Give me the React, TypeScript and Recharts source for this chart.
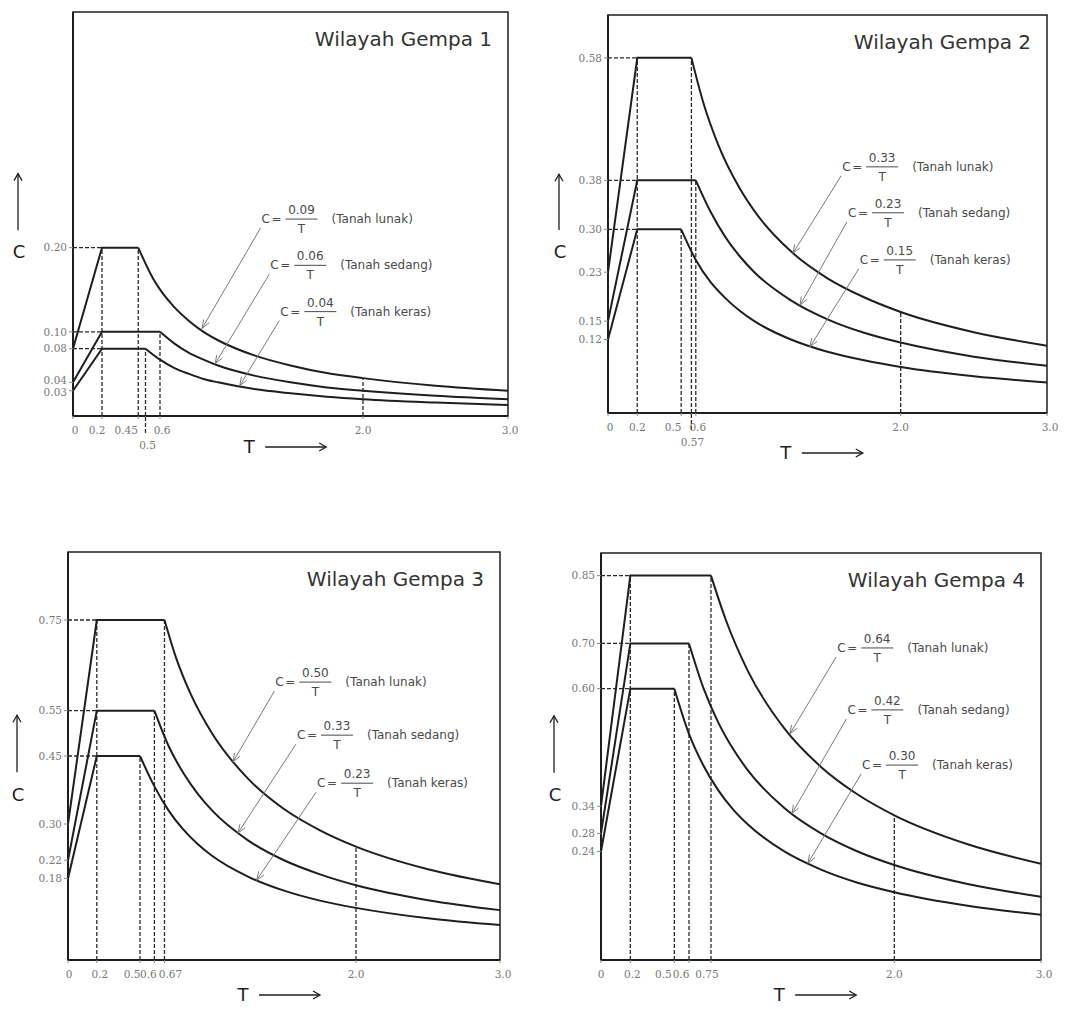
import React from "react";
import {
  LineChart,
  Line,
  XAxis,
  YAxis,
  ReferenceLine,
  ReferenceDot,
  ReferenceArea,
  Label,
} from "recharts";

type Pt = [number, number]; // [T (detik), C]

const SOILS = ["Tanah lunak", "Tanah sedang", "Tanah keras"];

// ---- Wilayah Gempa 1 ----
const g1Lunak: Pt[] = [[0, 0.08], [0.2, 0.2], [0.45, 0.2], [0.55, 0.164], [0.7, 0.129], [0.8, 0.113], [0.9, 0.1], [1.0, 0.09], [1.25, 0.072], [1.5, 0.06], [1.75, 0.051], [2.0, 0.045], [2.5, 0.036], [3.0, 0.03]];
const g1Sedang: Pt[] = [[0, 0.04], [0.2, 0.1], [0.6, 0.1], [0.7, 0.086], [0.8, 0.075], [0.9, 0.067], [1.0, 0.06], [1.25, 0.048], [1.5, 0.04], [1.75, 0.034], [2.0, 0.03], [2.5, 0.024], [3.0, 0.02]];
const g1Keras: Pt[] = [[0, 0.03], [0.2, 0.08], [0.5, 0.08], [0.6, 0.067], [0.7, 0.057], [0.8, 0.05], [0.9, 0.044], [1.0, 0.04], [1.25, 0.032], [1.5, 0.027], [1.75, 0.023], [2.0, 0.02], [2.5, 0.016], [3.0, 0.013]];
const g1XTicks = [0, 0.2, 0.45, 0.5, 0.6, 2.0, 3.0];
const g1YTicks = [0.03, 0.04, 0.08, 0.1, 0.2];
const g1Coef = [0.09, 0.06, 0.04];

// ---- Wilayah Gempa 2 ----
const g2Lunak: Pt[] = [[0, 0.23], [0.2, 0.58], [0.57, 0.58], [0.65, 0.508], [0.75, 0.44], [0.9, 0.367], [1.0, 0.33], [1.25, 0.264], [1.5, 0.22], [1.75, 0.189], [2.0, 0.165], [2.5, 0.132], [3.0, 0.11]];
const g2Sedang: Pt[] = [[0, 0.15], [0.2, 0.38], [0.6, 0.38], [0.7, 0.329], [0.8, 0.288], [0.9, 0.256], [1.0, 0.23], [1.25, 0.184], [1.5, 0.153], [1.75, 0.131], [2.0, 0.115], [2.5, 0.092], [3.0, 0.077]];
const g2Keras: Pt[] = [[0, 0.12], [0.2, 0.3], [0.5, 0.3], [0.6, 0.25], [0.7, 0.214], [0.8, 0.188], [0.9, 0.167], [1.0, 0.15], [1.25, 0.12], [1.5, 0.1], [1.75, 0.086], [2.0, 0.075], [2.5, 0.06], [3.0, 0.05]];
const g2XTicks = [0, 0.2, 0.5, 0.57, 0.6, 2.0, 3.0];
const g2YTicks = [0.12, 0.15, 0.23, 0.3, 0.38, 0.58];
const g2Coef = [0.33, 0.23, 0.15];

// ---- Wilayah Gempa 3 ----
const g3Lunak: Pt[] = [[0, 0.3], [0.2, 0.75], [0.67, 0.75], [0.75, 0.667], [0.85, 0.588], [1.0, 0.5], [1.25, 0.4], [1.5, 0.333], [1.75, 0.286], [2.0, 0.25], [2.5, 0.2], [3.0, 0.167]];
const g3Sedang: Pt[] = [[0, 0.22], [0.2, 0.55], [0.6, 0.55], [0.7, 0.471], [0.8, 0.413], [0.9, 0.367], [1.0, 0.33], [1.25, 0.264], [1.5, 0.22], [1.75, 0.189], [2.0, 0.165], [2.5, 0.132], [3.0, 0.11]];
const g3Keras: Pt[] = [[0, 0.18], [0.2, 0.45], [0.5, 0.45], [0.6, 0.383], [0.7, 0.329], [0.8, 0.288], [0.9, 0.256], [1.0, 0.23], [1.25, 0.184], [1.5, 0.153], [1.75, 0.131], [2.0, 0.115], [2.5, 0.092], [3.0, 0.077]];
const g3XTicks = [0, 0.2, 0.5, 0.6, 0.67, 2.0, 3.0];
const g3YTicks = [0.18, 0.22, 0.3, 0.45, 0.55, 0.75];
const g3Coef = [0.5, 0.33, 0.23];

// ---- Wilayah Gempa 4 ----
const g4Lunak: Pt[] = [[0, 0.34], [0.2, 0.85], [0.75, 0.85], [0.85, 0.753], [1.0, 0.64], [1.25, 0.512], [1.5, 0.427], [1.75, 0.366], [2.0, 0.32], [2.5, 0.256], [3.0, 0.213]];
const g4Sedang: Pt[] = [[0, 0.28], [0.2, 0.7], [0.6, 0.7], [0.7, 0.6], [0.8, 0.525], [0.9, 0.467], [1.0, 0.42], [1.25, 0.336], [1.5, 0.28], [1.75, 0.24], [2.0, 0.21], [2.5, 0.168], [3.0, 0.14]];
const g4Keras: Pt[] = [[0, 0.24], [0.2, 0.6], [0.5, 0.6], [0.6, 0.5], [0.7, 0.429], [0.8, 0.375], [0.9, 0.333], [1.0, 0.3], [1.25, 0.24], [1.5, 0.2], [1.75, 0.171], [2.0, 0.15], [2.5, 0.12], [3.0, 0.1]];
const g4XTicks = [0, 0.2, 0.5, 0.6, 0.75, 2.0, 3.0];
const g4YTicks = [0.24, 0.28, 0.34, 0.6, 0.7, 0.85];
const g4Coef = [0.64, 0.42, 0.3];

// where the formula labels sit and where their arrows point: [labelT, labelC, tipT, tipC]
const g1Notes = [[1.3, 0.234, 0.89, 0.104], [1.36, 0.179, 0.98, 0.062], [1.43, 0.124, 1.15, 0.036]];
const g2Notes = [[1.6, 0.402, 1.264, 0.261], [1.64, 0.327, 1.312, 0.176], [1.72, 0.25, 1.38, 0.108]];
const g3Notes = [[1.44, 0.613, 1.146, 0.437], [1.59, 0.496, 1.18, 0.28], [1.73, 0.39, 1.31, 0.176]];
const g4Notes = [[1.61, 0.69, 1.288, 0.5], [1.68, 0.553, 1.302, 0.324], [1.78, 0.431, 1.411, 0.214]];

const PANELS = [
  { title: "Wilayah Gempa 1", series: [g1Lunak, g1Sedang, g1Keras], coef: g1Coef, xTicks: g1XTicks, yTicks: g1YTicks, notes: g1Notes,
    yMax: 0.48, plotLeft: 73, plotTop: 12, plotW: 435, plotH: 404, xh: 52, lowered: [0.5], tickDx: [2, -5, -12, 2, 2, 0, 2],
    yNudge: { 0.04: -2, 0.03: 2 } as Record<number, number>, cDx: 55, tDy: 31 },
  { title: "Wilayah Gempa 2", series: [g2Lunak, g2Sedang, g2Keras], coef: g2Coef, xTicks: g2XTicks, yTicks: g2YTicks, notes: g2Notes,
    yMax: 0.65, plotLeft: 608, plotTop: 15, plotW: 439, plotH: 398, xh: 56, lowered: [0.57], tickDx: [2, 0, -8, 1, 2, 0, 3],
    yNudge: {} as Record<number, number>, cDx: 49, tDy: 40 },
  { title: "Wilayah Gempa 3", series: [g3Lunak, g3Sedang, g3Keras], coef: g3Coef, xTicks: g3XTicks, yTicks: g3YTicks, notes: g3Notes,
    yMax: 0.9, plotLeft: 68, plotTop: 552, plotW: 432, plotH: 408, xh: 46, lowered: [], tickDx: [1, 3, -8, -6, 6, 0, 3],
    yNudge: {} as Record<number, number>, cDx: 51, tDy: 35 },
  { title: "Wilayah Gempa 4", series: [g4Lunak, g4Sedang, g4Keras], coef: g4Coef, xTicks: g4XTicks, yTicks: g4YTicks, notes: g4Notes,
    yMax: 0.9, plotLeft: 601, plotTop: 553, plotW: 440, plotH: 407, xh: 46, lowered: [], tickDx: [0, 2, -11, -8, -4, 0, 3],
    yNudge: {} as Record<number, number>, cDx: 47, tDy: 35 },
];

const SANS = "'DejaVu Sans', Verdana, sans-serif";
const SERIF = "'DejaVu Serif', serif";
const INK = "#1e1e1e";

const fmtT = (v: number) => (v === 0 ? "0" : v >= 1 ? v.toFixed(1) : String(v));
const rows = (pts: Pt[]) => pts.map(([t, c]) => ({ t, c }));

function arrowShape(p: any) {
  const sx = p.x1 - 1;
  const sy = p.y1 + 9;
  const ex = p.x2;
  const ey = p.y2;
  const a = Math.atan2(ey - sy, ex - sx);
  const L = 9;
  const s = 0.36;
  const h1 = [ex - L * Math.cos(a - s), ey - L * Math.sin(a - s)];
  const h2 = [ex - L * Math.cos(a + s), ey - L * Math.sin(a + s)];
  return (
    <g>
      <line x1={sx} y1={sy} x2={ex} y2={ey} stroke="#7a7a7a" strokeWidth={1} />
      <path d={`M${h1[0]},${h1[1]} L${ex},${ey} L${h2[0]},${h2[1]}`} fill="none" stroke="#7a7a7a" strokeWidth={1} />
    </g>
  );
}

function Equation({ cx, cy, coef, soil }: { cx: number; cy: number; coef: number; soil: string }) {
  const f = { fontFamily: SANS, fontSize: 12, fill: "#4a4a4a" };
  return (
    <g>
      <text x={cx} y={cy + 4} {...f}>C</text>
      <text x={cx + 10} y={cy + 4} {...f}>=</text>
      <text x={cx + 40} y={cy - 5} textAnchor="middle" {...f}>{coef.toFixed(2)}</text>
      <line x1={cx + 24} y1={cy} x2={cx + 56} y2={cy} stroke="#4a4a4a" strokeWidth={1} />
      <text x={cx + 40} y={cy + 14} textAnchor="middle" {...f}>T</text>
      <text x={cx + 70} y={cy + 4} {...f}>({soil})</text>
    </g>
  );
}

function Panel({ spec }: { spec: any }) {
  const TOP = 10;
  const YW = 60;
  const R = 20;
  const width = YW + spec.plotW + R;
  const height = TOP + spec.plotH + spec.xh;
  const series: Pt[][] = spec.series;
  const plateaus = series.map((s) => s[1][1]);
  const corners = series.map((s) => s[2][0]);
  const lunakAt2 = (series[0].find((p) => p[0] === 2.0) as Pt)[1];
  const dash = { stroke: "#2a2a2a", strokeWidth: 1.3, strokeDasharray: "4 2" };

  const renderXTick = (p: any) => {
    const v = p.payload.value;
    const i = spec.xTicks.indexOf(v);
    const low = spec.lowered.includes(v);
    const tx = p.x + (spec.tickDx[i] || 0);
    return (
      <g>
        {low && <line x1={p.x} y1={p.y - 4} x2={p.x} y2={p.y + 14} {...dash} />}
        <text x={tx} y={p.y + (low ? 28 : 13)} textAnchor="middle" fontFamily={SERIF} fontSize={10.5} fill="#777">
          {fmtT(v)}
        </text>
      </g>
    );
  };

  const renderYTick = (p: any) => {
    const v = p.payload.value;
    return (
      <text x={p.x} y={p.y + (spec.yNudge[v] || 0)} dy="0.355em" textAnchor="end" fontFamily={SERIF} fontSize={10.5} fill="#777">
        {v.toFixed(2)}
      </text>
    );
  };

  const renderXLabel = (p: any) => {
    const vb = p.viewBox;
    const cx = vb.x + vb.width * 0.405;
    const cy = vb.y + spec.tDy;
    return (
      <g>
        <text x={cx} y={cy + 6} textAnchor="middle" fontFamily={SANS} fontSize={18} fill={INK}>T</text>
        <line x1={cx + 16} y1={cy} x2={cx + 77} y2={cy} stroke={INK} strokeWidth={1.3} />
        <path d={`M${cx + 70},${cy - 4} L${cx + 77},${cy} L${cx + 70},${cy + 4}`} fill="none" stroke={INK} strokeWidth={1.3} />
      </g>
    );
  };

  const renderYLabel = (p: any) => {
    const vb = p.viewBox;
    const ax = vb.x + vb.width - spec.cDx;
    const top = vb.y + vb.height * 0.4;
    const bot = vb.y + vb.height * 0.54;
    const cy = vb.y + vb.height * 0.595;
    return (
      <g>
        <line x1={ax} y1={bot} x2={ax} y2={top} stroke={INK} strokeWidth={1.3} />
        <path d={`M${ax - 4},${top + 7} L${ax},${top} L${ax + 4},${top + 7}`} fill="none" stroke={INK} strokeWidth={1.3} />
        <text x={ax + 1} y={cy + 6} textAnchor="middle" fontFamily={SANS} fontSize={18} fill={INK}>C</text>
      </g>
    );
  };

  const renderTitle = (p: any) => {
    const vb = p.viewBox;
    return (
      <text x={vb.x + vb.width - 16} y={vb.y + 34} textAnchor="end" fontFamily={SANS} fontSize={20} fill="#333">
        {spec.title}
      </text>
    );
  };

  return (
    <div style={{ position: "absolute", left: spec.plotLeft - YW, top: spec.plotTop - TOP }}>
      <LineChart width={width} height={height} margin={{ top: TOP, right: R, bottom: 0, left: 0 }}>
        <XAxis
          type="number"
          dataKey="t"
          domain={[0, 3]}
          ticks={spec.xTicks}
          interval={0}
          allowDataOverflow
          height={spec.xh}
          tickSize={3}
          axisLine={{ stroke: INK, strokeWidth: 2 }}
          tickLine={{ stroke: "#888" }}
          tick={renderXTick}
        >
          <Label content={renderXLabel} />
        </XAxis>
        <YAxis
          type="number"
          domain={[0, spec.yMax]}
          ticks={spec.yTicks}
          interval={0}
          allowDataOverflow
          width={YW}
          tickSize={4}
          axisLine={{ stroke: INK, strokeWidth: 2 }}
          tickLine={{ stroke: "#888" }}
          tick={renderYTick}
        >
          <Label content={renderYLabel} />
        </YAxis>

        <ReferenceArea x1={0} x2={3} y1={0} y2={spec.yMax} fill="none" stroke={INK} strokeWidth={1.5}>
          <Label content={renderTitle} />
        </ReferenceArea>

        {/* guide lines */}
        <ReferenceLine segment={[{ x: 0.2, y: 0 }, { x: 0.2, y: Math.max(...plateaus) }]} {...dash} />
        {plateaus.map((c, i) => (
          <ReferenceLine key={"h" + i} segment={[{ x: 0, y: c }, { x: 0.2, y: c }]} {...dash} />
        ))}
        {corners.map((t, i) => (
          <ReferenceLine key={"v" + i} segment={[{ x: t, y: 0 }, { x: t, y: plateaus[i] }]} {...dash} />
        ))}
        <ReferenceLine segment={[{ x: 2.0, y: 0 }, { x: 2.0, y: lunakAt2 }]} {...dash} />

        {series.map((s, i) => (
          <Line
            key={"r" + i}
            data={rows(s.slice(0, 3))}
            dataKey="c"
            type="linear"
            stroke={INK}
            strokeWidth={2}
            dot={false}
            isAnimationActive={false}
          />
        ))}
        {series.map((s, i) => (
          <Line
            key={"d" + i}
            data={rows(s.slice(2))}
            dataKey="c"
            type="monotone"
            stroke={INK}
            strokeWidth={2}
            dot={false}
            isAnimationActive={false}
          />
        ))}

        {spec.notes.map((n: number[], i: number) => (
          <ReferenceLine key={"a" + i} segment={[{ x: n[0], y: n[1] }, { x: n[2], y: n[3] }]} shape={arrowShape} />
        ))}
        {spec.notes.map((n: number[], i: number) => (
          <ReferenceDot
            key={"e" + i}
            x={n[0]}
            y={n[1]}
            r={0}
            shape={(p: any) => <Equation cx={p.cx} cy={p.cy} coef={spec.coef[i]} soil={SOILS[i]} />}
          />
        ))}
      </LineChart>
    </div>
  );
}

export default function App() {
  return (
    <div style={{ position: "absolute", left: 0, top: 0, width: 1070, height: 1009, background: "#fff", overflow: "hidden" }}>
      {PANELS.map((p) => (
        <Panel key={p.title} spec={p} />
      ))}
    </div>
  );
}
